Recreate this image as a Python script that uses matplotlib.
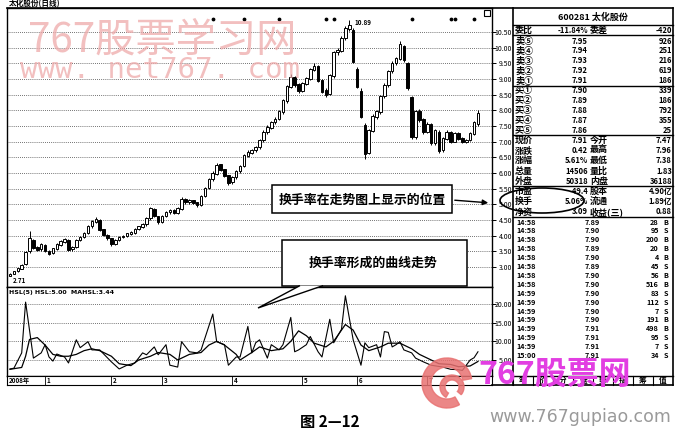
import numpy as np
import matplotlib.pyplot as plt
from matplotlib.patches import Rectangle, Ellipse, Polygon, Wedge

plt.rcParams['font.family'] = ['Noto Sans CJK SC', 'DejaVu Sans']

W, H = 678, 436

# daily candles (2.71 -> 10.89 -> 7.91)
opens = [2.72, 2.78, 2.86, 2.95, 3.08, 3.50, 3.85, 3.62, 3.56, 3.68,
         3.50, 3.44, 3.58, 3.70, 3.80, 3.84, 3.56, 3.64, 3.86, 3.96,
         4.10, 4.30, 4.44, 4.48, 4.18, 4.00, 3.90, 3.72, 3.86, 3.95,
         3.98, 4.06, 4.10, 4.22, 4.28, 4.36, 4.55, 4.82, 4.60, 4.44,
         4.62, 4.74, 4.80, 4.72, 4.86, 5.15, 5.06, 5.12, 5.04, 4.98,
         5.26, 5.52, 5.80, 5.98, 6.26, 6.10, 5.92, 5.70, 5.86, 6.05,
         6.22, 6.55, 6.64, 6.72, 6.82, 7.05, 7.30, 7.45, 7.62, 7.72,
         7.95, 8.30, 8.75, 9.05, 8.82, 8.62, 8.85, 9.00, 9.30, 9.40,
         8.95, 8.62, 8.52, 9.10, 9.85, 9.90, 10.30, 10.60, 10.55, 9.30,
         8.60, 7.50, 6.65, 7.35, 7.80, 7.95, 8.45, 8.80, 9.25, 9.50,
         9.65, 10.05, 9.50, 8.40, 7.15, 7.95, 7.70, 7.30, 7.55, 6.95,
         7.30, 6.72, 7.10, 7.30, 7.00, 7.25, 7.10, 7.00, 7.05, 7.25,
         7.55]
closes = [2.76, 2.85, 2.95, 3.05, 3.45, 3.90, 3.62, 3.55, 3.70, 3.52,
          3.42, 3.58, 3.70, 3.82, 3.86, 3.55, 3.62, 3.85, 3.95, 4.08,
          4.30, 4.45, 4.52, 4.18, 4.02, 3.92, 3.72, 3.85, 3.95, 3.98,
          4.05, 4.10, 4.20, 4.28, 4.35, 4.55, 4.85, 4.62, 4.42, 4.60,
          4.75, 4.80, 4.72, 4.85, 5.15, 5.08, 5.12, 5.05, 4.98, 5.25,
          5.50, 5.80, 5.98, 6.25, 6.10, 5.92, 5.68, 5.85, 6.05, 6.20,
          6.55, 6.65, 6.70, 6.80, 7.05, 7.30, 7.45, 7.60, 7.70, 7.95,
          8.30, 8.75, 9.05, 8.80, 8.62, 8.85, 9.00, 9.30, 9.40, 8.95,
          8.60, 8.50, 9.10, 9.85, 9.90, 10.30, 10.60, 10.70, 9.55, 8.75,
          7.80, 6.60, 7.35, 7.80, 7.95, 8.45, 8.80, 9.25, 9.50, 9.65,
          10.10, 9.60, 8.70, 7.15, 7.95, 7.70, 7.30, 7.55, 6.95, 7.35,
          6.70, 7.10, 7.30, 7.00, 7.25, 7.10, 7.00, 7.05, 7.25, 7.60,
          7.91]
highs = [2.80, 2.88, 2.98, 3.10, 3.50, 4.15, 3.90, 3.68, 3.75, 3.72,
         3.55, 3.62, 3.75, 3.86, 3.92, 3.88, 3.68, 3.88, 4.00, 4.12,
         4.35, 4.50, 4.60, 4.52, 4.22, 4.05, 3.94, 3.90, 3.98, 4.02,
         4.08, 4.14, 4.24, 4.32, 4.40, 4.60, 4.92, 4.88, 4.64, 4.65,
         4.80, 4.86, 4.84, 4.90, 5.22, 5.20, 5.18, 5.15, 5.08, 5.30,
         5.55, 5.85, 6.05, 6.32, 6.30, 6.12, 5.95, 5.90, 6.10, 6.25,
         6.60, 6.72, 6.76, 6.86, 7.10, 7.36, 7.52, 7.66, 7.78, 8.00,
         8.36, 8.80, 9.15, 9.10, 8.86, 8.90, 9.08, 9.36, 9.50, 9.45,
         9.00, 8.70, 9.15, 9.90, 10.00, 10.36, 10.70, 10.89, 10.62, 9.40,
         8.70, 7.60, 7.40, 7.88, 8.02, 8.50, 8.86, 9.30, 9.58, 9.72,
         10.22, 10.08, 9.55, 8.45, 8.02, 8.05, 7.75, 7.62, 7.60, 7.40,
         7.38, 7.15, 7.36, 7.35, 7.30, 7.30, 7.15, 7.10, 7.30, 7.65,
         8.00]
lows = [2.71, 2.76, 2.84, 2.92, 3.05, 3.45, 3.58, 3.50, 3.52, 3.48,
        3.38, 3.40, 3.55, 3.66, 3.76, 3.50, 3.52, 3.60, 3.82, 3.92,
        4.05, 4.26, 4.40, 4.14, 3.98, 3.86, 3.66, 3.70, 3.82, 3.92,
        3.95, 4.02, 4.06, 4.18, 4.24, 4.32, 4.50, 4.58, 4.36, 4.40,
        4.58, 4.70, 4.68, 4.68, 4.82, 5.02, 5.02, 5.00, 4.92, 4.94,
        5.22, 5.48, 5.76, 5.94, 6.05, 5.88, 5.62, 5.66, 5.82, 6.00,
        6.18, 6.50, 6.60, 6.68, 6.78, 7.00, 7.26, 7.40, 7.58, 7.68,
        7.90, 8.25, 8.70, 8.75, 8.55, 8.58, 8.80, 8.96, 9.25, 8.90,
        8.55, 8.42, 8.48, 9.05, 9.78, 9.85, 10.25, 10.55, 9.50, 8.70,
        7.75, 6.45, 6.60, 7.30, 7.74, 7.90, 8.40, 8.75, 9.20, 9.45,
        9.60, 9.55, 8.65, 7.10, 7.10, 7.62, 7.25, 7.28, 6.90, 6.90,
        6.65, 6.68, 7.05, 6.95, 6.98, 7.05, 6.95, 6.96, 7.02, 7.20,
        7.50]

# turnover rate (HSL) and its 5-day average, read at chart turning points
hsl_days = [0, 1, 3, 4, 6, 8, 9, 10, 11, 12, 14, 15, 17, 18, 20, 21, 23, 26,
            28, 30, 32, 34, 35, 37, 38, 40, 41, 43, 44, 46, 48, 49, 52, 53,
            55, 56, 58, 59, 61, 62, 63, 64, 66, 67, 69, 70, 72, 73, 74, 76,
            77, 79, 80, 82, 83, 85, 86, 88, 90, 91, 92, 94, 95, 96, 97, 98,
            99, 100, 101, 103, 104, 106, 108, 111, 113, 115, 116, 118, 119, 120]
hsl_vals = [2.6, 2.8, 6.9, 20.5, 5.5, 6.9, 9.1, 5.8, 4.7, 6.6, 5.8, 4.2, 10.4,
            8.3, 9.9, 7.7, 7.7, 4.5, 2.6, 3.6, 4.2, 6.9, 6.4, 8.5, 6.4, 9.1,
            3.6, 3.1, 9.9, 7.2, 6.9, 7.7, 17.3, 9.9, 9.1, 3.6, 5.8, 5.8, 14.0,
            6.9, 9.6, 10.4, 5.5, 9.1, 7.7, 9.1, 16.4, 7.2, 7.7, 9.1, 11.3, 7.2,
            5.8, 15.9, 9.6, 13.2, 22.2, 10.4, 3.6, 9.6, 8.3, 9.1, 5.8, 12.6,
            12.4, 8.5, 9.1, 9.9, 7.7, 6.9, 5.5, 4.5, 3.6, 3.1, 2.5, 2.4, 2.2,
            5.0, 5.6, 7.2]
ma_days = [0, 3, 4, 5, 7, 9, 11, 13, 15, 17, 19, 21, 23, 26, 28, 31, 33, 36,
           38, 41, 43, 44, 46, 49, 51, 53, 55, 58, 59, 62, 64, 67, 70, 72, 74,
           76, 78, 81, 83, 86, 88, 90, 92, 95, 97, 100, 103, 105, 108, 110,
           113, 115, 118, 120]
ma_vals = [2.5, 3.0, 6.0, 10.5, 11.0, 9.0, 6.5, 6.0, 6.0, 6.5, 7.5, 8.0, 7.5,
           6.0, 4.0, 3.5, 5.0, 6.0, 7.0, 6.5, 5.0, 5.5, 6.5, 7.0, 9.0, 10.0,
           9.0, 6.5, 5.0, 7.0, 8.5, 7.5, 8.0, 10.0, 12.8, 11.5, 9.5, 8.5, 10.0,
           14.5, 13.0, 9.0, 7.5, 8.5, 9.5, 9.5, 8.0, 6.5, 5.0, 4.0, 3.8, 3.2,
           3.4, 4.6]

price_ticks = [10.5, 10.0, 9.5, 9.0, 8.5, 8.0, 7.5, 7.0, 6.5, 6.0, 5.5, 5.0,
               4.5, 4.0, 3.5, 3.0]
hsl_ticks = [20, 15, 10, 5]
month_days = [9, 26, 39, 57, 75, 89, 107]
month_labels = ['1', '2', '3', '4', '5', '6', '7']
mine_days = [52, 60, 69, 81, 83, 103, 113, 114, 119]

# quote panel
order_labels = ['卖⑤', '卖④', '卖③', '卖②', '卖①', '买①', '买②', '买③', '买④', '买⑤']
order_prices = ['7.95', '7.94', '7.93', '7.92', '7.91', '7.90', '7.89', '7.88', '7.87', '7.86']
order_vols = ['926', '251', '216', '619', '186', '339', '186', '792', '355', '25']
stat_labels = ['现价', '涨跌', '涨幅', '总量', '外盘', '市盈', '换手', '净资']
stat_values = ['7.91', '0.42', '5.61%', '14506', '50318', '-49.4', '5.06%', '3.09']
stat_labels2 = ['今开', '最高', '最低', '量比', '内盘', '股本', '流通', '收益(三)']
stat_values2 = ['7.47', '7.96', '7.38', '1.83', '36188', '4.90亿', '1.89亿', '0.88']
tick_times = ['14:58'] * 8 + ['14:59'] * 7 + ['15:00']
tick_prices = ['7.89', '7.90', '7.90', '7.89', '7.90', '7.89', '7.90', '7.90',
               '7.90', '7.90', '7.90', '7.90', '7.91', '7.91', '7.91', '7.91']
tick_vols = ['28', '95', '200', '20', '4', '45', '56', '516',
             '83', '112', '7', '191', '498', '95', '7', '34']
tick_sides = ['B', 'S', 'B', 'B', 'B', 'S', 'B', 'B',
              'S', 'S', 'S', 'B', 'B', 'S', 'S', 'S']
tabs = ['笔', '价', '分', '盘', '势', '指', '筹', '值']

fig = plt.figure(figsize=(W / 100, H / 100), dpi=100)


def px_axes(x0, y0, x1, y1, **kw):
    return fig.add_axes([x0 / W, 1 - y1 / H, (x1 - x0) / W, (y1 - y0) / H], **kw)


XLIM = (-0.77, 123.6)
days = np.arange(len(closes))

# ---- price panel
ax = px_axes(7, 8, 492, 287)
ax.set_xlim(*XLIM)
ax.set_ylim(2.36, 11.27)
o, c = np.array(opens), np.array(closes)
up = c >= o
ax.vlines(days, lows, highs, color='black', lw=0.7, zorder=2)
ax.bar(days, np.abs(c - o) + 0.02, bottom=np.minimum(o, c), width=0.66,
       color=np.where(up, 'white', 'black'), edgecolor='black', lw=0.7, zorder=3)
ax.scatter(mine_days, [0.96] * len(mine_days), s=3, color='black',
           transform=ax.get_xaxis_transform(), zorder=4)
ax.annotate('10.89', xy=(87, 10.89), xytext=(4, -2), textcoords='offset points',
            fontsize=4.5, fontweight='bold', va='center')
ax.annotate('2.71', xy=(0, 2.71), xytext=(2, -3), textcoords='offset points',
            fontsize=4.5, fontweight='bold', va='center')
ax.set_yticks(price_ticks)
ax.set_yticklabels(['%.2f' % v for v in price_ticks])
ax.yaxis.tick_right()
ax.tick_params(axis='y', length=3, pad=11.4, labelsize=5, width=0.7)
for lab in ax.get_yticklabels():
    lab.set_horizontalalignment('right')
ax.set_xticks([])
ax.grid(axis='y', linestyle=(0, (1, 1.5)), color='#444444', lw=0.6)
ax.text(0.003, 1.0, '太化股份(日线)', transform=ax.transAxes, fontsize=5.5,
        fontweight='bold', va='bottom')
for s in ax.spines.values():
    s.set_linewidth(1.0)

# ---- turnover panel
sx = px_axes(7, 287, 492, 376)
sx.set_xlim(*XLIM)
sx.set_ylim(0.71, 24.55)
sx.plot(hsl_days, hsl_vals, color='black', lw=0.8)
sx.plot(ma_days, ma_vals, color='black', lw=0.9)
sx.set_yticks(hsl_ticks)
sx.set_yticklabels(['%.2f' % v for v in hsl_ticks])
sx.yaxis.tick_right()
sx.tick_params(axis='y', length=3, pad=11.4, labelsize=5, width=0.7)
for lab in sx.get_yticklabels():
    lab.set_horizontalalignment('right')
sx.set_xticks([])
sx.grid(axis='y', linestyle=(0, (1, 1.5)), color='#444444', lw=0.6)
sx.text(0.004, 0.97, 'HSL(5) HSL:5.00  MAHSL:3.44', transform=sx.transAxes,
        fontsize=4.5, fontweight='bold', va='top', family='DejaVu Sans')
for s in sx.spines.values():
    s.set_linewidth(1.0)

# ---- date bar
db = px_axes(7, 376, 492, 385)
db.set_xlim(*XLIM)
db.set_ylim(0, 1)
db.set_xticks([])
db.set_yticks([])
db.vlines(month_days, 0, 1, color='black', lw=0.6)
for d, lab in zip(month_days, month_labels):
    db.text(d + 0.4, 0.45, lab, fontsize=4.5, fontweight='bold', va='center')
db.text(0.004, 0.45, '2008年', transform=db.transAxes, fontsize=4.5,
        fontweight='bold', va='center')

# ---- overlay: quote panel, notes, watermarks
ov = fig.add_axes([0, 0, 1, 1], zorder=10)
ov.set_xlim(0, W)
ov.set_ylim(H, 0)
ov.axis('off')
ov.patch.set_alpha(0)

k = dict(color='black', lw=1.2)
ov.plot([7, 673], [8, 8], **k)
ov.plot([513, 513], [8, 385], **k)
ov.plot([673, 673], [8, 385], **k)
ov.plot([492, 673], [385, 385], **k)
for y in [25, 35.5, 86, 135.5, 186, 217, 376]:
    ov.plot([513, 673], [y, y], color='black', lw=1.0)
ov.add_patch(Rectangle((484, 10), 6, 6, fill=False, ec='black', lw=0.8))

bold = dict(fontweight='bold', va='center')
ov.text(593, 17, '600281 太化股份', fontsize=6.5, ha='center', **bold)
ov.text(515, 30.5, '委比', fontsize=6.5, ha='left', **bold)
ov.text(588, 30.5, '-11.84%', fontsize=5.5, ha='right', **bold)
ov.text(590, 30.5, '委差', fontsize=6.5, ha='left', **bold)
ov.text(672, 30.5, '-420', fontsize=5.5, ha='right', **bold)
for i, (lab, p, v) in enumerate(zip(order_labels, order_prices, order_vols)):
    y = 41 + 9.95 * i
    ov.text(515, y, lab, fontsize=6.5, ha='left', **bold)
    ov.text(588, y, p, fontsize=5.5, ha='right', **bold)
    ov.text(672, y, v, fontsize=5.5, ha='right', **bold)
for i, (l1, v1, l2, v2) in enumerate(zip(stat_labels, stat_values,
                                         stat_labels2, stat_values2)):
    y = 140.5 + 10.2 * i
    ov.text(515, y, l1, fontsize=6.5, ha='left', **bold)
    ov.text(588, y, v1, fontsize=5.5, ha='right', **bold)
    ov.text(590, y, l2, fontsize=6.5, ha='left', **bold)
    ov.text(672, y, v2, fontsize=5.5, ha='right', **bold)
for i, (t, p, v, s) in enumerate(zip(tick_times, tick_prices, tick_vols, tick_sides)):
    y = 222 + 8.9 * i
    ov.text(516, y, t, fontsize=5.2, ha='left', **bold)
    ov.text(600, y, p, fontsize=5.2, ha='right', **bold)
    ov.text(659, y, v, fontsize=5.2, ha='right', **bold)
    ov.text(666, y, s, fontsize=5.2, ha='center', **bold)
for i, t in enumerate(tabs):
    x = 513 + 20 * i
    ov.plot([x, x], [376, 385], color='black', lw=0.8)
    ov.text(x + 10, 380.5, t, fontsize=5.5, ha='center', **bold)

# callout 1
ov.add_patch(Rectangle((272, 185), 180, 28, fc='white', ec='black', lw=1.1))
ov.text(362, 199.5, '换手率在走势图上显示的位置', fontsize=9.3, ha='center', **bold)
ov.annotate('', xy=(491, 203), xytext=(452, 200),
            arrowprops=dict(arrowstyle='-|>', color='black', lw=1.0,
                            mutation_scale=8))
ov.add_patch(Ellipse((542, 200.5), 84, 25, fill=False, ec='black', lw=1.2))

# callout 2
ov.add_patch(Rectangle((282, 240), 185, 46, fc='white', ec='black', lw=1.1))
ov.add_patch(Polygon([(300, 285.6), (258, 308), (323, 285.6)], closed=False,
                     fc='white', ec='black', lw=1.0))
ov.text(373, 263, '换手率形成的曲线走势', fontsize=9.3, ha='center', **bold)

# watermarks
ov.text(28, 40, '767股票学习网', fontsize=29, color='#eeaaaa', alpha=0.75,
        va='center', ha='left')
ov.text(20, 70, 'www. net767. com', fontsize=21, color='#eeaaaa', alpha=0.75,
        va='center', ha='left', family='DejaVu Sans Mono')
ov.add_patch(Wedge((447, 383), 25, 60, 350, width=9, color='#e87272', alpha=0.85))
ov.add_patch(Wedge((452, 387), 12, 120, 40, width=5, color='#e87272', alpha=0.85))
ov.text(478, 375, '767股票网', fontsize=23, color='#e23ee2', fontweight='bold',
        style='italic', va='center', ha='left')
ov.text(489, 417, 'www.767gupiao.com', fontsize=12.5, color='#9a9a9a',
        va='center', ha='left', family='DejaVu Sans')

ov.text(330, 422, '图 2—12', fontsize=11, fontweight='bold', ha='center',
        va='center')

fig.savefig('out.png', dpi=100)
